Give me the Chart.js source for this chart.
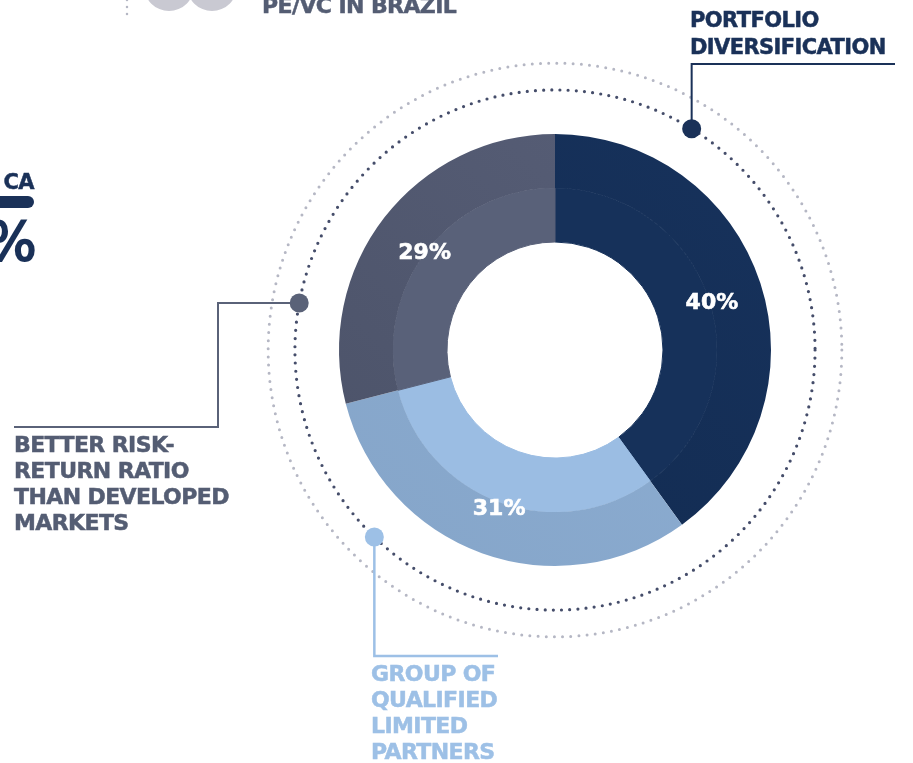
<!DOCTYPE html>
<html>
<head>
<meta charset="utf-8">
<script src="https://cdn.jsdelivr.net/npm/chart.js@4.4.1/dist/chart.umd.min.js"></script>
<style>
    html, body { margin: 0; padding: 0; background: #fff; }
    #wrap { position: relative; width: 913px; height: 763px; overflow: hidden; }
    #grafico { position: absolute; left: 0; top: 0; }
    .txt {
        position: absolute;
        font-family: "DejaVu Sans", sans-serif;
        font-weight: bold;
        font-size: 22px;
        line-height: 26px;
        letter-spacing: -0.6px;
        white-space: nowrap;
        -webkit-text-stroke: 0.5px currentColor;
    }
</style>
</head>
<body>
<div id="wrap">
    <canvas id="grafico" width="913" height="763"></canvas>

    <!-- pedaços do infográfico que ficam fora do recorte -->
    <div class="txt" style="left:262px; top:-7px; color:#545d73;">PE/VC IN BRAZIL</div>
    <div class="txt" style="left:-100px; width:134px; text-align:right; top:169px; font-size:21px; color:#1a3158;">CA</div>
    <div style="position:absolute; left:-20px; top:196px; width:54px; height:12px; border-radius:6px; background:#1a3158;"></div>
    <div class="txt" style="left:-100px; width:136px; text-align:right; top:212px; font-size:53px; line-height:60px; font-weight:normal; -webkit-text-stroke:2px #1a3158; color:#1a3158;">%</div>

    <div class="txt" style="left:690px; top:7px; font-size:21px; line-height:27px; color:#1a3158;">PORTFOLIO<br>DIVERSIFICATION</div>
    <div class="txt" style="left:14px; top:432px; color:#545d73;">BETTER RISK-<br>RETURN RATIO<br>THAN DEVELOPED<br>MARKETS</div>
    <div class="txt" style="left:371px; top:661px; color:#9dc0e6;">GROUP OF<br>QUALIFIED<br>LIMITED<br>PARTNERS</div>
</div>

<script>
// dados
const categorias = ['Portfolio diversification', 'Group of qualified limited partners', 'Better risk-return ratio than developed markets'];
const percentuais = [40, 31, 29];

// cores (anel externo um pouco mais escuro que o interno)
const CORES_EXTERNO_A = ['#17325c', '#8eafd4', '#585f78'];
const CORES_EXTERNO_B = ['#112a4f', '#85a5c9', '#4b5268'];
const CORES_INTERNO = ['#16315a', '#9bbde3', '#596179'];

function gradiente(context) {
    var chart = context.chart;
    var area = chart.chartArea;
    var i = context.dataIndex;
    if (!area) return CORES_EXTERNO_A[i];
    var g = chart.ctx.createLinearGradient(area.right, area.top, area.left, area.bottom);
    g.addColorStop(0, CORES_EXTERNO_A[i]);
    g.addColorStop(1, CORES_EXTERNO_B[i]);
    return g;
}

// círculos pontilhados em volta do donut
const aneis = {
    id: 'aneis',
    beforeDatasetsDraw: function(chart) {
        var arc = chart.getDatasetMeta(0).data[0];
        var ctx = chart.ctx;
        ctx.save();
        ctx.lineCap = 'round';
        ctx.lineWidth = 3;
        ctx.setLineDash([0, 8.2]);
        ctx.strokeStyle = '#b5b7c4';
        ctx.beginPath();
        ctx.arc(arc.x, arc.y, arc.outerRadius * 1.328, 0, Math.PI * 2);
        ctx.stroke();
        ctx.strokeStyle = '#454d6a';
        ctx.lineWidth = 3.2;
        ctx.beginPath();
        ctx.arc(arc.x, arc.y, arc.outerRadius * 1.204, 0, Math.PI * 2);
        ctx.stroke();
        ctx.restore();

        // bolinhas do topo (cortadas)
        ctx.save();
        ctx.fillStyle = '#c9c9d2';
        ctx.beginPath(); ctx.arc(169, -14, 25, 0, Math.PI * 2); ctx.fill();
        ctx.beginPath(); ctx.arc(212, -14, 25, 0, Math.PI * 2); ctx.fill();
        ctx.lineCap = 'round';
        ctx.lineWidth = 2.5;
        ctx.setLineDash([0, 7]);
        ctx.strokeStyle = '#b5b7c4';
        ctx.beginPath(); ctx.moveTo(127, 0); ctx.lineTo(127, 15); ctx.stroke();
        ctx.restore();
    }
};

// linhas de chamada das legendas
const chamadas = {
    id: 'chamadas',
    afterDraw: function(chart) {
        var arc = chart.getDatasetMeta(0).data[0];
        var ctx = chart.ctx;
        var r = arc.outerRadius * 1.204;
        function ponto(graus) {
            var a = graus * Math.PI / 180;
            return { x: arc.x + r * Math.sin(a), y: arc.y - r * Math.cos(a) };
        }
        function desenha(graus, cor, largura, caminho) {
            var p = ponto(graus);
            ctx.save();
            ctx.strokeStyle = cor;
            ctx.lineWidth = largura;
            ctx.beginPath();
            ctx.moveTo(p.x, p.y);
            caminho(p).forEach(function(q) { ctx.lineTo(q[0], q[1]); });
            ctx.stroke();
            ctx.fillStyle = cor;
            ctx.beginPath();
            ctx.arc(p.x, p.y, 9.5, 0, Math.PI * 2);
            ctx.fill();
            ctx.restore();
        }
        desenha(31.7, '#1a3158', 2, function(p) { return [[p.x, 64], [895, 64]]; });
        desenha(280.4, '#5a6278', 2, function(p) { return [[218, p.y], [218, 427], [14, 427]]; });
        desenha(224, '#9dc0e6', 2.5, function(p) { return [[p.x, 656], [498, 656]]; });
    }
};

// rótulos de porcentagem
const rotulos = {
    id: 'rotulos',
    afterDatasetsDraw: function(chart) {
        var ctx = chart.ctx;
        var meta = chart.getDatasetMeta(0);
        ctx.save();
        ctx.fillStyle = '#ffffff';
        ctx.strokeStyle = '#ffffff';
        ctx.lineWidth = 0.6;
        ctx.font = 'bold 22px "DejaVu Sans", sans-serif';
        ctx.textAlign = 'center';
        ctx.textBaseline = 'middle';
        meta.data.forEach(function(a, i) {
            var meio = (a.startAngle + a.endAngle) / 2;
            var rr = a.innerRadius + 3;
            var tx = a.x + rr * Math.cos(meio);
            var ty = a.y + rr * Math.sin(meio) + 4;
            ctx.fillText(percentuais[i] + '%', tx, ty);
            ctx.strokeText(percentuais[i] + '%', tx, ty);
        });
        ctx.restore();
    }
};

new Chart(document.getElementById('grafico'), {
    type: 'doughnut',
    data: {
        labels: categorias,
        datasets: [
            { data: percentuais, backgroundColor: gradiente, borderWidth: 0, weight: 1 },
            { data: percentuais, backgroundColor: CORES_INTERNO, borderColor: CORES_INTERNO, borderWidth: 1, weight: 1 }
        ]
    },
    options: {
        responsive: false,
        animation: false,
        cutout: '50%',
        layout: { padding: { left: 339, right: 142, top: 134, bottom: 197 } },
        plugins: {
            legend: { display: false },
            tooltip: { enabled: false }
        }
    },
    plugins: [aneis, rotulos, chamadas]
});
</script>
</body>
</html>
